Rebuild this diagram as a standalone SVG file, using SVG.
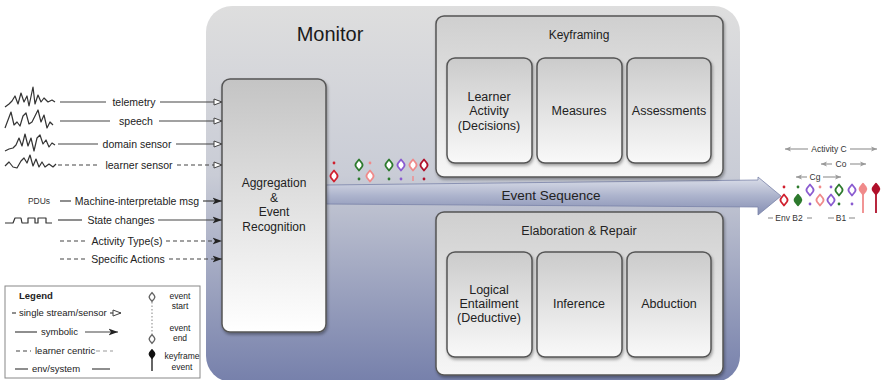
<svg xmlns="http://www.w3.org/2000/svg" width="882" height="380" viewBox="0 0 882 380">
  <defs>
    <style>
      text { font-family: "Liberation Sans", Arial, sans-serif; fill: #222; text-anchor: middle; }
      .in { font-size: 10.5px; }
      .box { font-size: 12.5px; }
      .title { font-size: 20px; fill: #1a1a1a; }
      .seq { font-size: 13.5px; }
      .leg { font-size: 9.5px; text-anchor: start; }
      .legs { font-size: 8.5px; }
      .tiny { font-size: 8.5px; fill: #333; }
      .frame { stroke: #555; stroke-width: 1.5; }
      .wave { fill: none; stroke: #333; stroke-width: 1.2; stroke-linejoin: round; }
      .ln { fill: none; stroke: #444; stroke-width: 1.2; }
      .dash { stroke-dasharray: 4 3; }
      .span { fill: none; stroke: #999; stroke-width: 1.2; }
      .ring { fill: #fff; stroke-width: 1.8; stroke-linejoin: round; }
    </style>
    <linearGradient id="gMonitor" x1="0" y1="0" x2="0" y2="1">
      <stop offset="0" stop-color="#dedede"/>
      <stop offset="0.45" stop-color="#c9ccd6"/>
      <stop offset="1" stop-color="#7680ab"/>
    </linearGradient>
    <linearGradient id="gOuter" x1="0" y1="0" x2="0" y2="1">
      <stop offset="0" stop-color="#cfcfcf"/>
      <stop offset="1" stop-color="#f6f6f6"/>
    </linearGradient>
    <linearGradient id="gInner" x1="0" y1="0" x2="0" y2="1">
      <stop offset="0" stop-color="#cbcbcb"/>
      <stop offset="1" stop-color="#f9f9f9"/>
    </linearGradient>
    <linearGradient id="gAgg" x1="0" y1="0" x2="0" y2="1">
      <stop offset="0" stop-color="#c4c4c4"/>
      <stop offset="1" stop-color="#ffffff"/>
    </linearGradient>
    <linearGradient id="gSeq" x1="0" y1="0" x2="0" y2="1">
      <stop offset="0" stop-color="#dde0ea"/>
      <stop offset="0.5" stop-color="#acb3cc"/>
      <stop offset="1" stop-color="#858eb3"/>
    </linearGradient>
    <filter id="shadow" x="-10%" y="-10%" width="130%" height="130%">
      <feDropShadow dx="1" dy="2" stdDeviation="1.5" flood-color="#000" flood-opacity="0.35"/>
    </filter>
    <marker id="mOpen" markerUnits="userSpaceOnUse" markerWidth="10" markerHeight="8" refX="9" refY="4" orient="auto">
      <path d="M1,1 L9,4 L1,7 Z" fill="#fff" stroke="#444" stroke-width="1"/>
    </marker>
    <marker id="mSolid" markerUnits="userSpaceOnUse" markerWidth="10" markerHeight="8" refX="9.5" refY="4" orient="auto">
      <path d="M0,0.5 L9.5,4 L0,7.5 L2.5,4 Z" fill="#222"/>
    </marker>
    <marker id="mGray" markerUnits="userSpaceOnUse" markerWidth="7" markerHeight="6" refX="6" refY="3" orient="auto">
      <path d="M0,0.5 L6,3 L0,5.5 L1.5,3 Z" fill="#999"/>
    </marker>
    <!-- event glyph: ring with pointed ends -->
    <path id="ev" class="ring" d="M0,-5.5 L2.8,-2 A3.3,3.3 0 0 1 2.8,2 L0,5.5 L-2.8,2 A3.3,3.3 0 0 1 -2.8,-2 Z"/>
    <path id="evFill" stroke-width="1.5" stroke-linejoin="round" d="M0,-5.5 L2.8,-2 A3.3,3.3 0 0 1 2.8,2 L0,5.5 L-2.8,2 A3.3,3.3 0 0 1 -2.8,-2 Z"/>
  </defs>

  <rect width="882" height="380" fill="#fff"/>

  <!-- monitor container -->
  <g id="monitor">
    <rect x="206" y="6" width="534" height="376" rx="26" fill="url(#gMonitor)"/>
    <text class="title" x="330" y="41">Monitor</text>
  </g>

  <!-- event sequence band and arrow -->
  <g id="event-sequence">
    <path d="M326,185 L758,180 L758,177 L781,196 L758,215 L758,207 L326,204 Z" fill="url(#gSeq)" stroke="#7a83a8" stroke-width="0.8"/>
    <text class="seq" x="551" y="200">Event Sequence</text>
  </g>

  <!-- aggregation -->
  <g id="aggregation">
    <rect class="frame" x="222" y="79" width="104" height="253" rx="8" fill="url(#gAgg)" filter="url(#shadow)"/>
    <text class="box" x="274" y="187" style="font-size:12px">Aggregation</text>
    <text class="box" x="274" y="202" style="font-size:12px">&amp;</text>
    <text class="box" x="274" y="216" style="font-size:12px">Event</text>
    <text class="box" x="274" y="231" style="font-size:12px">Recognition</text>
  </g>

  <!-- keyframing -->
  <g id="keyframing">
    <rect class="frame" x="436" y="16" width="287" height="161" rx="8" fill="url(#gOuter)" filter="url(#shadow)"/>
    <text class="box" x="579" y="39" style="font-size:12px">Keyframing</text>
    <g id="learner-activity">
      <rect class="frame" x="447" y="58" width="85" height="105" rx="8" fill="url(#gInner)" filter="url(#shadow)"/>
      <text class="box" x="489" y="101">Learner</text>
      <text class="box" x="489" y="115">Activity</text>
      <text class="box" x="489" y="130">(Decisions)</text>
    </g>
    <g id="measures">
      <rect class="frame" x="537" y="58" width="85" height="105" rx="8" fill="url(#gInner)" filter="url(#shadow)"/>
      <text class="box" x="579" y="115">Measures</text>
    </g>
    <g id="assessments">
      <rect class="frame" x="627" y="58" width="84" height="105" rx="8" fill="url(#gInner)" filter="url(#shadow)"/>
      <text class="box" x="669" y="115">Assessments</text>
    </g>
  </g>

  <!-- elaboration and repair -->
  <g id="elaboration">
    <rect class="frame" x="436" y="212" width="287" height="163" rx="8" fill="url(#gOuter)" filter="url(#shadow)"/>
    <text class="box" x="579" y="235">Elaboration &amp; Repair</text>
    <g id="logical-entailment">
      <rect class="frame" x="447" y="252" width="85" height="105" rx="8" fill="url(#gInner)" filter="url(#shadow)"/>
      <text class="box" x="489" y="294">Logical</text>
      <text class="box" x="489" y="308">Entailment</text>
      <text class="box" x="489" y="322">(Deductive)</text>
    </g>
    <g id="inference">
      <rect class="frame" x="537" y="252" width="85" height="105" rx="8" fill="url(#gInner)" filter="url(#shadow)"/>
      <text class="box" x="579" y="308">Inference</text>
    </g>
    <g id="abduction">
      <rect class="frame" x="627" y="252" width="84" height="105" rx="8" fill="url(#gInner)" filter="url(#shadow)"/>
      <text class="box" x="669" y="308">Abduction</text>
    </g>
  </g>

  <!-- input sources -->
  <g id="sources">
    <path class="wave" d="M5,107 L9,104 L12,101 L15,96 L18,104 L21,93 L24,102 L27,96 L29,106 L33,87 L35,104 L38,95 L41,102 L44,98 L48,102 L52,100 L55,102"/>
    <path class="wave" d="M5,128 L8,120 L11,112 L14,125 L17,122 L20,126 L23,116 L26,113 L29,124 L32,122 L35,116 L38,110 L41,122 L44,115 L47,128 L50,122 L53,125"/>
    <path class="wave" d="M5,151 L9,149 L13,148 L16,145 L19,138 L22,146 L25,134 L28,146 L31,138 L34,151 L37,138 L40,135 L43,144 L46,140 L49,147 L52,143 L55,145"/>
    <path class="wave" d="M5,166 L9,162 L13,167 L17,168 L21,161 L24,158 L27,163 L30,155 L33,166 L36,159 L39,167 L42,162 L45,167 L49,164 L53,167 L56,164"/>
    <text class="tiny" x="39" y="204">PDUs</text>
    <path class="wave" d="M5,223 H13 L15,218 H21 L22,223 H28 V218 H35 V223 H38 V218 H46 V223 H52"/>
    <text class="in" x="134" y="106">telemetry</text>
    <text class="in" x="136" y="125">speech</text>
    <text class="in" x="137" y="148">domain sensor</text>
    <text class="in" x="139" y="169">learner sensor</text>
    <text class="in" x="137" y="205">Machine-interpretable msg</text>
    <text class="in" x="121" y="224">State changes</text>
    <text class="in" x="127" y="245">Activity Type(s)</text>
    <text class="in" x="128" y="263">Specific Actions</text>
  </g>

  <!-- connectors into aggregation -->
  <g id="connectors">
    <line class="ln" x1="60" y1="102" x2="106" y2="102"/>
    <line class="ln" x1="160" y1="102" x2="222" y2="102" marker-end="url(#mOpen)"/>
    <line class="ln" x1="60" y1="121" x2="110" y2="121"/>
    <line class="ln" x1="159" y1="121" x2="222" y2="121" marker-end="url(#mOpen)"/>
    <line class="ln" x1="58" y1="144" x2="98" y2="144"/>
    <line class="ln" x1="176" y1="144" x2="222" y2="144" marker-end="url(#mOpen)"/>
    <line class="ln dash" x1="58" y1="165" x2="100" y2="165"/>
    <line class="ln dash" x1="177" y1="165" x2="222" y2="165" marker-end="url(#mOpen)"/>
    <line class="ln" x1="60" y1="201" x2="71" y2="201"/>
    <line class="ln" x1="203" y1="201" x2="222" y2="201" marker-end="url(#mSolid)"/>
    <line class="ln" x1="58" y1="220" x2="82" y2="220"/>
    <line class="ln" x1="158" y1="220" x2="222" y2="220" marker-end="url(#mSolid)"/>
    <line class="ln dash" x1="60" y1="241" x2="88" y2="241"/>
    <line class="ln dash" x1="166" y1="241" x2="222" y2="241" marker-end="url(#mSolid)"/>
    <line class="ln dash" x1="60" y1="259" x2="85" y2="259"/>
    <line class="ln dash" x1="169" y1="259" x2="222" y2="259" marker-end="url(#mSolid)"/>
  </g>

  <!-- events leaving aggregation -->
  <g id="events-out">
    <circle cx="334" cy="163" r="1.4" fill="#d0202e"/>
    <use href="#ev" x="334" y="176" stroke="#d0202e"/>
    <use href="#ev" x="359" y="165" stroke="#2d7a2d"/>
    <circle cx="359" cy="179" r="1.4" fill="#2d7a2d"/>
    <circle cx="370" cy="163" r="1.4" fill="#f08a8a"/>
    <use href="#ev" x="370" y="176" stroke="#f08a8a"/>
    <use href="#ev" x="389" y="165" stroke="#2d7a2d"/>
    <circle cx="389" cy="179" r="1.4" fill="#2d7a2d"/>
    <use href="#ev" x="401" y="165" stroke="#8a5bd0"/>
    <circle cx="401" cy="179" r="1.4" fill="#8a5bd0"/>
    <use href="#ev" x="413" y="165" stroke="#f08a8a"/>
    <line x1="413" y1="176" x2="413" y2="181" stroke="#f08a8a" stroke-width="1.4"/>
    <use href="#ev" x="424" y="165" stroke="#b0102a"/>
    <circle cx="424" cy="179" r="1.4" fill="#b0102a"/>
  </g>

  <!-- resulting event sequence -->
  <g id="sequence-out">
    <text class="tiny" x="829" y="152">Activity C</text>
    <line class="span" x1="808" y1="149" x2="785" y2="149" marker-end="url(#mGray)"/>
    <line class="span" x1="850" y1="149" x2="877" y2="149" marker-end="url(#mGray)"/>
    <text class="tiny" x="841" y="167">Co</text>
    <line class="span" x1="832" y1="164" x2="821" y2="164" marker-end="url(#mGray)"/>
    <line class="span" x1="850" y1="164" x2="866" y2="164" marker-end="url(#mGray)"/>
    <text class="tiny" x="815" y="180">Cg</text>
    <line class="span" x1="807" y1="177" x2="796" y2="177" marker-end="url(#mGray)"/>
    <line class="span" x1="823" y1="177" x2="841" y2="177" marker-end="url(#mGray)"/>

    <circle cx="784" cy="187" r="1.4" fill="#d0202e"/>
    <use href="#ev" x="784" y="200" stroke="#d0202e"/>
    <circle cx="798" cy="187" r="1.4" fill="#2d7a2d"/>
    <use href="#evFill" x="798" y="200" stroke="#2d7a2d" fill="#2d7a2d"/>
    <use href="#ev" x="810" y="190" stroke="#8a5bd0"/>
    <circle cx="810" cy="204" r="1.4" fill="#8a5bd0"/>
    <circle cx="820" cy="187" r="1.4" fill="#f08a8a"/>
    <use href="#ev" x="820" y="200" stroke="#f08a8a"/>
    <circle cx="831" cy="187" r="1.4" fill="#8a5bd0"/>
    <use href="#ev" x="831" y="200" stroke="#8a5bd0"/>
    <use href="#ev" x="839" y="190" stroke="#2d7a2d"/>
    <circle cx="839" cy="204" r="1.4" fill="#2d7a2d"/>
    <use href="#ev" x="852" y="190" stroke="#8a5bd0"/>
    <circle cx="852" cy="204" r="1.4" fill="#8a5bd0"/>
    <line x1="863" y1="190" x2="863" y2="213" stroke="#f08a8a" stroke-width="1.8"/>
    <use href="#evFill" x="863" y="189" stroke="#f08a8a" fill="#f08a8a"/>
    <line x1="876" y1="190" x2="876" y2="213" stroke="#b0102a" stroke-width="1.8"/>
    <use href="#evFill" x="876" y="189" stroke="#b0102a" fill="#b0102a"/>

    <line class="span" x1="768" y1="218" x2="773" y2="218"/>
    <text class="tiny" x="789" y="221">Env B2</text>
    <line class="span" x1="807" y1="218" x2="812" y2="218"/>
    <line class="span" x1="828" y1="218" x2="834" y2="218"/>
    <text class="tiny" x="841" y="221">B1</text>
    <line class="span" x1="849" y1="218" x2="855" y2="218"/>
  </g>

  <!-- legend -->
  <g id="legend">
    <rect x="5" y="286" width="195" height="92" fill="#fff" stroke="#888" stroke-width="1"/>
    <text class="leg" x="19" y="299" style="font-weight:bold">Legend</text>
    <line class="ln" x1="12" y1="313" x2="16" y2="313"/>
    <text class="leg" x="19" y="316">single stream/sensor</text>
    <line class="ln" x1="110" y1="313" x2="121" y2="313" marker-end="url(#mOpen)"/>
    <line class="ln" x1="15" y1="332" x2="37" y2="332"/>
    <text class="leg" x="41" y="335">symbolic</text>
    <line class="ln" x1="85" y1="332" x2="118" y2="332" marker-end="url(#mSolid)"/>
    <line class="ln dash" x1="16" y1="351" x2="31" y2="351"/>
    <text class="leg" x="35" y="354">learner centric</text>
    <line class="ln dash" x1="96" y1="351" x2="113" y2="351" style="stroke:#999"/>
    <line class="ln" x1="15" y1="369" x2="28" y2="369"/>
    <text class="leg" x="32" y="372">env/system</text>
    <line class="ln" x1="92" y1="369" x2="110" y2="369"/>

    <line x1="152" y1="302" x2="152" y2="334" stroke="#999" stroke-width="1.2" stroke-dasharray="1.5 2"/>
    <use href="#ev" x="152" y="297" stroke="#666" transform="translate(152 297) scale(0.8) translate(-152 -297)"/>
    <use href="#ev" x="152" y="339" stroke="#666" transform="translate(152 339) scale(0.8) translate(-152 -339)"/>
    <text class="legs" x="180" y="299">event</text>
    <text class="legs" x="180" y="309">start</text>
    <text class="legs" x="180" y="331">event</text>
    <text class="legs" x="180" y="341">end</text>
    <line x1="152" y1="355" x2="152" y2="371" stroke="#333" stroke-width="1.5"/>
    <use href="#evFill" x="152" y="354" stroke="#111" fill="#111" transform="translate(152 354) scale(0.8) translate(-152 -354)"/>
    <text class="legs" x="182" y="359">keyframe</text>
    <text class="legs" x="182" y="370">event</text>
  </g>
</svg>
